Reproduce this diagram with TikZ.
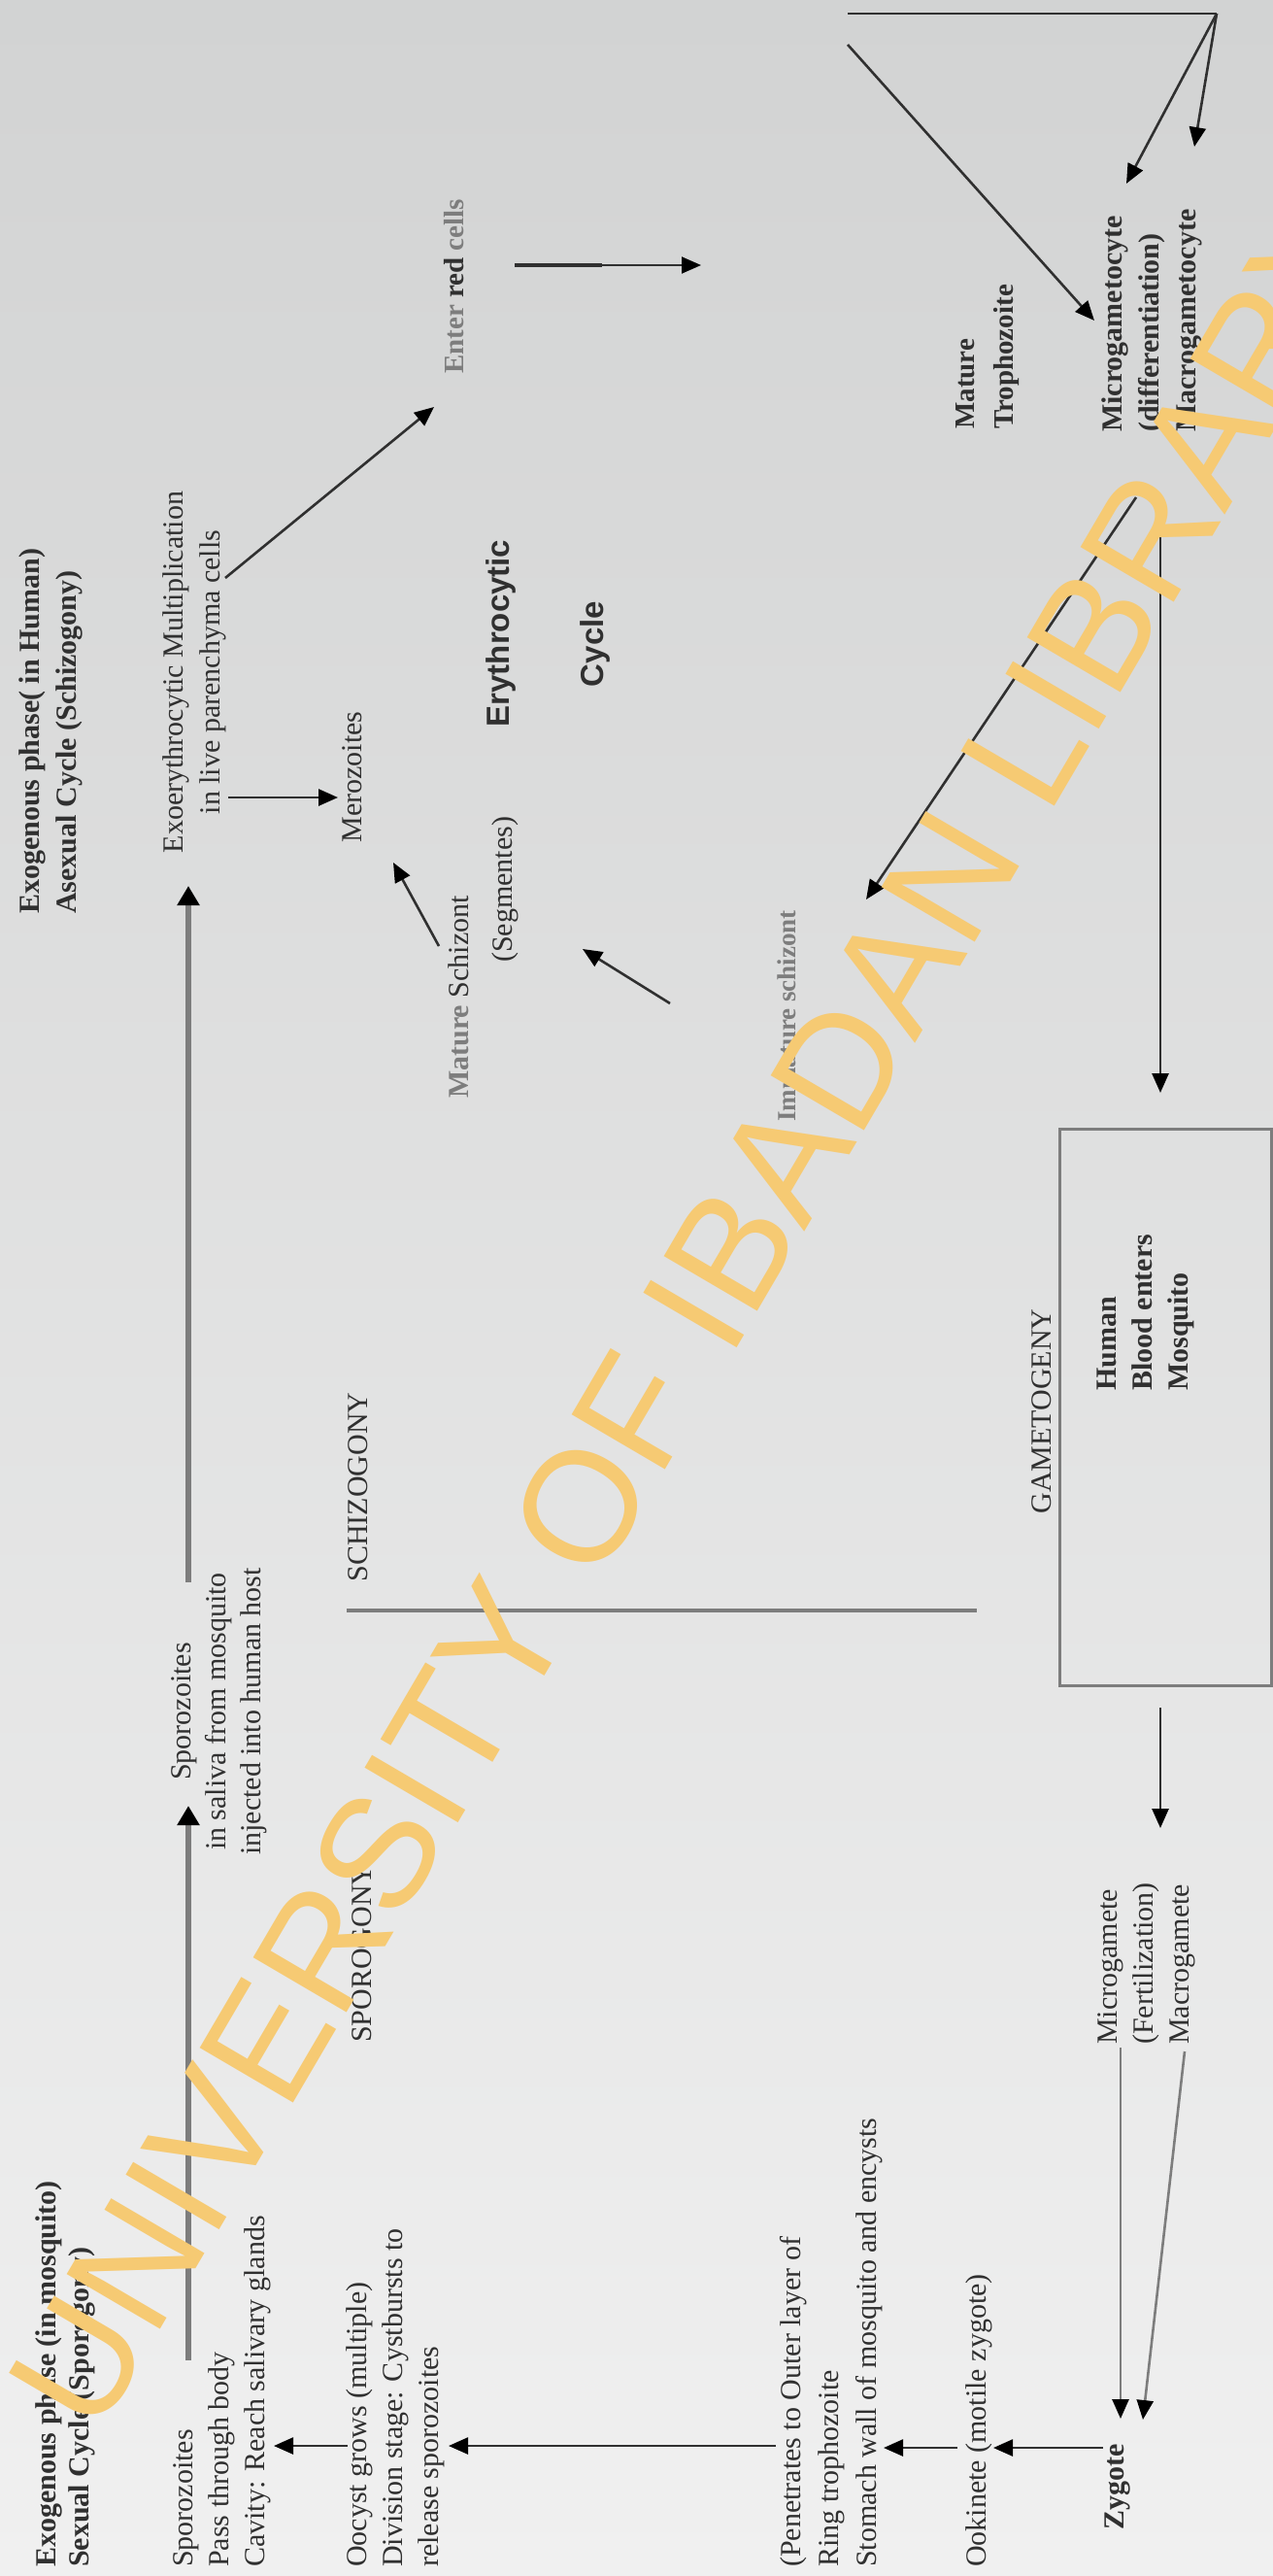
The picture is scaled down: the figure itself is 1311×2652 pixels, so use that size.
\documentclass[tikz,border=0pt]{standalone}
\usepackage{fontspec}
\setmainfont{Liberation Serif}
\newfontfamily\sansfam{Liberation Sans}
\usetikzlibrary{arrows.meta}
\definecolor{ink}{RGB}{48,48,48}
\definecolor{lgray}{RGB}{125,125,125}
\definecolor{wmc}{RGB}{246,202,115}
\definecolor{bgtop}{RGB}{210,211,211}
\definecolor{bgmid}{RGB}{228,228,228}
\definecolor{bgbot}{RGB}{240,240,240}
\begin{document}
\begin{tikzpicture}[x=1pt,y=-1pt,
  txt/.style={inner sep=0pt, rotate=90, text=ink, font=\fontsize{30}{37}\selectfont},
  lft/.style={txt, anchor=north west, align=left},
  ctr/.style={txt, anchor=north, align=center},
  arr/.style={draw=ink, line width=2.6pt, -{Triangle[length=20pt,width=17pt,color=black]}},
  garr/.style={draw=lgray, line width=6pt, -{Triangle[length=20pt,width=22pt,color=black]}},
  plain/.style={draw=ink, line width=2.6pt}]
\useasboundingbox (0,0) rectangle (1311,2652);
\clip (0,0) rectangle (1311,2652);
\shade[top color=bgtop, middle color=bgmid, bottom color=bgbot] (0,0) rectangle (1311,2652);

% ---- text nodes ----
\node[lft, font=\bfseries\fontsize{30}{34}\selectfont] (tmos) at (36,2643) {Exogenous phase (in mosquito)\\Sexual Cycle (Sporogony)};
\node[lft, font=\bfseries\fontsize{30}{38}\selectfont] (thum) at (19,941) {Exogenous phase( in Human)\\Asexual Cycle (Schizogony)};
\node[lft] (spmos) at (178,2643) {Sporozoites\\Pass through body\\Cavity: Reach salivary glands};
\node[lft] (oocyst) at (356,2643) {Oocyst grows (multiple)\\Division stage: Cystbursts to\\release sporozoites};
\node[lft, font=\fontsize{30}{39}\selectfont] (pen) at (803,2643) {(Penetrates to Outer layer of\\Ring trophozoite\\Stomach wall of mosquito and encysts};
\node[lft] (ook) at (994,2643) {Ookinete (motile zygote)};
\node[lft, font=\bfseries\fontsize{30}{37}\selectfont] (zyg) at (1138,2605) {Zygote};
\node[lft] (gam) at (1130,2105) {Microgamete\\(Fertilization)\\Macrogamete};
\node[draw=lgray, line width=3pt, minimum width=218pt, minimum height=573pt, inner sep=0pt, anchor=north west] (gbox) at (1090,1161) {};
\node[lft, font=\bfseries\fontsize{30}{37}\selectfont] (blood) at (1130,1432) {Human\\Blood enters\\Mosquito};
\node[ctr] (gameto) at (1062,1453) {GAMETOGENY};
\node[ctr] (schizo) at (358,1531) {SCHIZOGONY};
\node[ctr] (sporo) at (362,2011) {SPOROGONY};
\node[ctr, font=\fontsize{30}{36}\selectfont] (spsal) at (176,1762) {Sporozoites\\in saliva from mosquito\\injected into human host};
\node[ctr, font=\fontsize{30}{38}\selectfont] (exo) at (167,692) {Exoerythrocytic Multiplication\\in live parenchyma cells};
\node[ctr] (mero) at (352,800) {Merozoites};
\node[lft] (matschiz) at (461,1131) {\textcolor{lgray}{\bfseries Mature} Schizont};
\node[lft] (segm) at (506,991) {(Segmentes)};
\node[ctr, font=\sansfam\bfseries\fontsize{33}{40}\selectfont] (ery) at (500,652) {Erythrocytic};
\node[ctr, font=\sansfam\bfseries\fontsize{33}{40}\selectfont] (cyc) at (597,663) {Cycle};
\node[lft, font=\bfseries\fontsize{29}{36}\selectfont] (enter) at (457,385) {\textcolor{lgray}{Enter} red \textcolor{lgray}{cells}};
\node[lft, font=\bfseries\fontsize{27}{34}\selectfont, text=lgray] (immat) at (801,1155) {Immature schizont};
\node[lft, font=\bfseries\fontsize{29}{40}\selectfont] (mattro) at (984,442) {Mature\\Trophozoite};
\node[lft, font=\bfseries\fontsize{30}{38}\selectfont] (gcyte) at (1134,445) {Microgametocyte\\(differentiation)\\Macrogametocyte};

% ---- connector end points ----
\coordinate (p1) at (194,2430); \coordinate (p2) at (194,1859);
\coordinate (p3) at (194,1629); \coordinate (p4) at (194,912);
\coordinate (p5) at (235,821); \coordinate (p6) at (348,821);
\coordinate (p7) at (232,595); \coordinate (p8) at (447,419);
\coordinate (p9) at (452,974); \coordinate (p10) at (405,888);
\coordinate (p11) at (690,1033); \coordinate (p12) at (600,977);
\coordinate (p13) at (530,273); \coordinate (p14) at (722,273);
\coordinate (p15) at (873,14); \coordinate (p16) at (1253,14);
\coordinate (p17) at (1160,189); \coordinate (p18) at (1230,151);
\coordinate (p19) at (873,46); \coordinate (p20) at (1127,330);
\coordinate (p21) at (1170,512); \coordinate (p22) at (892,926);
\coordinate (p23) at (1195,512); \coordinate (p24) at (1195,1125);
\coordinate (p25) at (1195,1758); \coordinate (p26) at (1195,1882);
\coordinate (p27) at (1154,2108); \coordinate (p28) at (1154,2490);
\coordinate (p29) at (1220,2112); \coordinate (p30) at (1177,2491);
\coordinate (p31) at (1136,2520); \coordinate (p32) at (1023,2520);
\coordinate (p33) at (986,2520); \coordinate (p34) at (910,2520);
\coordinate (p35) at (799,2518); \coordinate (p36) at (462,2518);
\coordinate (p37) at (358,2518); \coordinate (p38) at (282,2518);
\coordinate (p39) at (357,1658); \coordinate (p40) at (1006,1658);

% ---- connectors ----
\draw[garr] (p1) -- (p2);
\draw[garr] (p3) -- (p4);
\draw[arr] (p5) -- (p6);
\draw[arr] (p7) -- (p8);
\draw[arr] (p9) -- (p10);
\draw[arr] (p11) -- (p12);
\draw[line width=4.5pt, draw=ink] (p13) -- ++(90,0);
\draw[arr, line width=2pt] (p13) -- (p14);
\draw[plain] (p15) -- (p16);
\draw[arr] (p16) -- (p17);
\draw[arr] (p16) -- (p18);
\draw[arr] (p19) -- (p20);
\draw[arr] (p21) -- (p22);
\draw[arr] (p23) -- (p24);
\draw[arr] (p25) -- (p26);
\draw[arr, draw=lgray] (p27) -- (p28);
\draw[arr, draw=lgray] (p29) -- (p30);
\draw[arr] (p31) -- (p32);
\draw[arr] (p33) -- (p34);
\draw[arr] (p35) -- (p36);
\draw[arr] (p37) -- (p38);
\draw[draw=lgray, line width=3.5pt] (p39) -- (p40);

% ---- watermark ----
\node[rotate=59.6, text=wmc, inner sep=0pt, font=\sansfam\fontsize{162}{162}\selectfont] (wm) at (716,1350) {UNIVERSITY OF IBADAN LIBRARY};
\end{tikzpicture}
\end{document}
